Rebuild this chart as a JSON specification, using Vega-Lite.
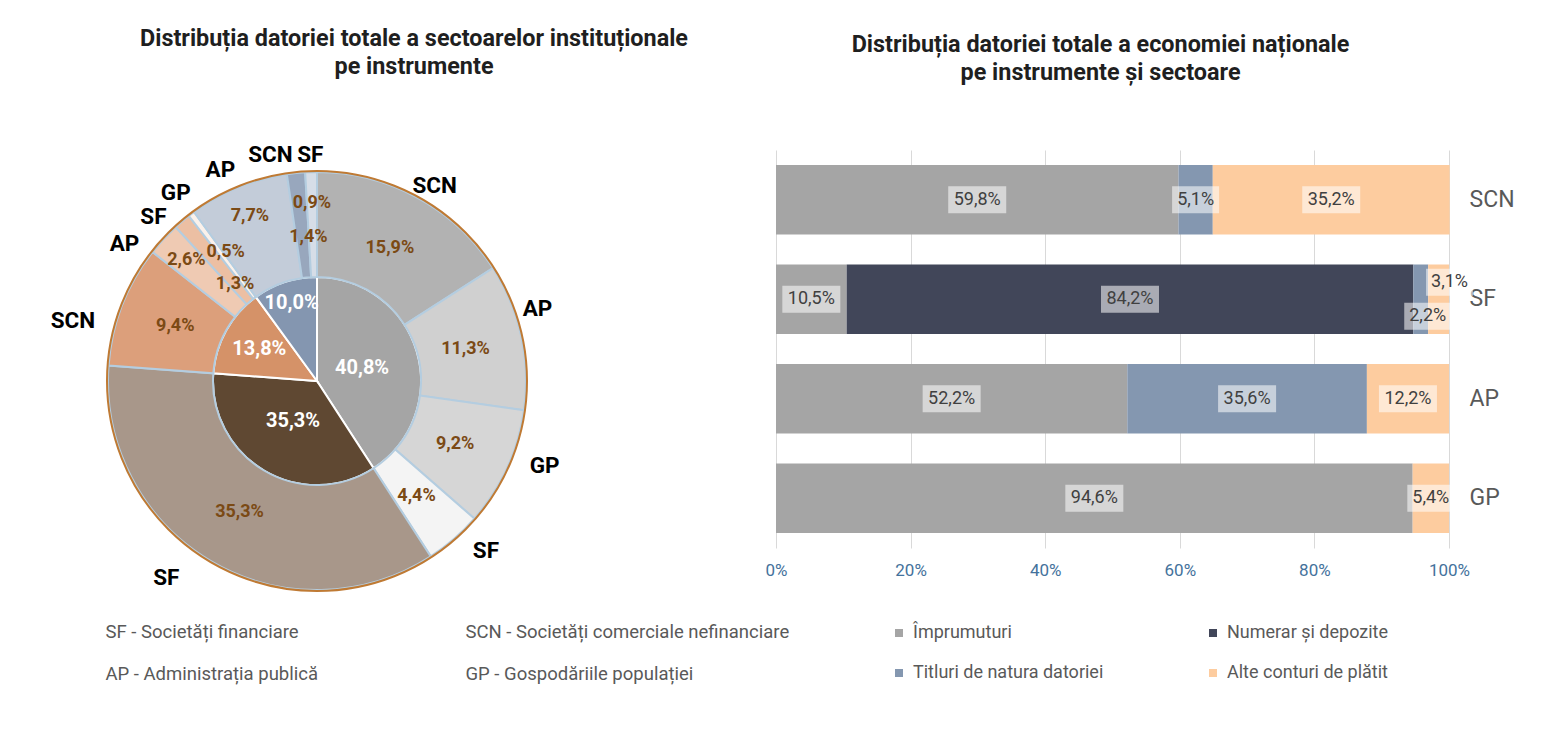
{
  "$schema": "https://vega.github.io/schema/vega-lite/v6.json",
  "padding": {"left": 37, "top": 26, "right": 5, "bottom": 5},
  "background": "white",
  "bounds": "flush",
  "spacing": 179,
  "config": {
    "font": "Roboto",
    "view": {"stroke": null},
    "locale": {"number": {"decimal": ",", "thousands": ".", "grouping": [3], "currency": ["", " lei"]}},
    "title": {"fontSize": 23.4, "fontWeight": "bold", "color": "#1f1f1f", "lineHeight": 28, "anchor": "middle", "frame": "group", "offset": 65}
  },
  "datasets": {
    "pie": [
      {"ring": "inner", "instrument": "Împrumuturi", "sector": "", "pct": 0.408},
      {"ring": "inner", "instrument": "Numerar și depozite", "sector": "", "pct": 0.353},
      {"ring": "inner", "instrument": "Alte conturi de plătit", "sector": "", "pct": 0.138},
      {"ring": "inner", "instrument": "Titluri de natura datoriei", "sector": "", "pct": 0.100},
      {"ring": "outer", "instrument": "Împrumuturi", "sector": "SCN", "pct": 0.159},
      {"ring": "outer", "instrument": "Împrumuturi", "sector": "AP", "pct": 0.113},
      {"ring": "outer", "instrument": "Împrumuturi", "sector": "GP", "pct": 0.092},
      {"ring": "outer", "instrument": "Împrumuturi", "sector": "SF", "pct": 0.044},
      {"ring": "outer", "instrument": "Numerar și depozite", "sector": "SF", "pct": 0.353},
      {"ring": "outer", "instrument": "Alte conturi de plătit", "sector": "SCN", "pct": 0.094},
      {"ring": "outer", "instrument": "Alte conturi de plătit", "sector": "AP", "pct": 0.026},
      {"ring": "outer", "instrument": "Alte conturi de plătit", "sector": "SF", "pct": 0.013},
      {"ring": "outer", "instrument": "Alte conturi de plătit", "sector": "GP", "pct": 0.005},
      {"ring": "outer", "instrument": "Titluri de natura datoriei", "sector": "AP", "pct": 0.077},
      {"ring": "outer", "instrument": "Titluri de natura datoriei", "sector": "SCN", "pct": 0.014},
      {"ring": "outer", "instrument": "Titluri de natura datoriei", "sector": "SF", "pct": 0.009}
    ],
    "bars": [
      {"sector": "SCN", "instrument": "Împrumuturi", "pct": 0.598},
      {"sector": "SCN", "instrument": "Titluri de natura datoriei", "pct": 0.051},
      {"sector": "SCN", "instrument": "Alte conturi de plătit", "pct": 0.352},
      {"sector": "SF", "instrument": "Împrumuturi", "pct": 0.105},
      {"sector": "SF", "instrument": "Numerar și depozite", "pct": 0.842},
      {"sector": "SF", "instrument": "Titluri de natura datoriei", "pct": 0.022},
      {"sector": "SF", "instrument": "Alte conturi de plătit", "pct": 0.031},
      {"sector": "AP", "instrument": "Împrumuturi", "pct": 0.522},
      {"sector": "AP", "instrument": "Titluri de natura datoriei", "pct": 0.356},
      {"sector": "AP", "instrument": "Alte conturi de plătit", "pct": 0.122},
      {"sector": "GP", "instrument": "Împrumuturi", "pct": 0.946},
      {"sector": "GP", "instrument": "Alte conturi de plătit", "pct": 0.054}
    ]
  },
  "resolve": {"scale": {"color": "independent"}, "legend": {"color": "independent"}},
  "hconcat": [
    {
      "title": {"text": ["Distribuția datoriei totale a sectoarelor instituționale", "pe instrumente"], "dx": 97},
      "width": 560,
      "height": 462,
      "data": {"name": "pie"},
      "transform": [
        {"window": [{"op": "row_number", "as": "k"}], "groupby": ["ring"]},
        {"stack": "pct", "groupby": ["ring"], "sort": [{"field": "k"}], "as": ["t0", "t1"]},
        {"calculate": "(datum.t0 + datum.t1) / 2", "as": "tm"}
      ],
      "resolve": {"scale": {"color": "independent"}, "legend": {"color": "independent"}},
      "layer": [
        {
          "transform": [{"filter": "datum.ring == 'inner'"}],
          "mark": {"type": "arc", "radius": 104, "stroke": "white", "strokeWidth": 2},
          "encoding": {
            "theta": {"field": "t0", "type": "quantitative", "scale": {"domain": [0, 0.999]}},
            "theta2": {"field": "t1"},
            "color": {
              "field": "instrument", "type": "nominal", "legend": null,
              "scale": {
                "domain": ["Împrumuturi", "Numerar și depozite", "Alte conturi de plătit", "Titluri de natura datoriei"],
                "range": ["#a5a5a5", "#5f4832", "#d59268", "#8496b0"]
              }
            }
          }
        },
        {
          "transform": [{"filter": "datum.ring == 'outer'"}],
          "mark": {"type": "arc", "innerRadius": 104, "radius": 209, "stroke": "#b4cde0", "strokeWidth": 2},
          "encoding": {
            "theta": {"field": "t0", "type": "quantitative", "scale": {"domain": [0, 0.999]}},
            "theta2": {"field": "t1"},
            "color": {
              "field": "k", "type": "ordinal", "legend": null,
              "scale": {
                "domain": [1, 2, 3, 4, 5, 6, 7, 8, 9, 10, 11, 12],
                "range": ["#b2b2b2", "#d0d0d0", "#d6d6d6", "#f4f4f4", "#a8978a", "#dc9f7b", "#efcab3", "#ecbfa3", "#fbf1ea", "#c3ccd9", "#98a7bd", "#d6dde7"]
              }
            }
          }
        },
        {
          "transform": [{"filter": "datum.ring == 'inner' && datum.k == 1"}],
          "mark": {"type": "arc", "radius": 210, "theta": 0, "theta2": 6.2832, "fillOpacity": 0, "stroke": "#bf7a34", "strokeWidth": 2},
          "encoding": {}
        },
        {
          "transform": [{"filter": "datum.ring == 'inner' && datum.k <= 2"}],
          "mark": {"type": "text", "radius": 47, "fontSize": 20, "fontWeight": "bold", "color": "white"},
          "encoding": {
            "theta": {"field": "tm", "type": "quantitative", "stack": null, "scale": {"domain": [0, 0.999]}},
            "text": {"field": "pct", "type": "quantitative", "format": ".1%"}
          }
        },
        {
          "transform": [{"filter": "datum.ring == 'inner' && datum.k == 3"}],
          "mark": {"type": "text", "radius": 66, "fontSize": 20, "fontWeight": "bold", "color": "white"},
          "encoding": {
            "theta": {"field": "tm", "type": "quantitative", "stack": null, "scale": {"domain": [0, 0.999]}},
            "text": {"field": "pct", "type": "quantitative", "format": ".1%"}
          }
        },
        {
          "transform": [{"filter": "datum.ring == 'inner' && datum.k == 4"}],
          "mark": {"type": "text", "radius": 82, "fontSize": 20, "fontWeight": "bold", "color": "white"},
          "encoding": {
            "theta": {"field": "tm", "type": "quantitative", "stack": null, "scale": {"domain": [0, 0.999]}},
            "text": {"field": "pct", "type": "quantitative", "format": ".1%"}
          }
        },
        {
          "transform": [{"filter": "datum.ring == 'outer' && indexof([7, 8, 9, 10, 11, 12], datum.k) < 0"}],
          "mark": {"type": "text", "radius": 152, "fontSize": 18, "fontWeight": "bold", "color": "#7b4a15"},
          "encoding": {
            "theta": {"field": "tm", "type": "quantitative", "stack": null, "scale": {"domain": [0, 0.999]}},
            "text": {"field": "pct", "type": "quantitative", "format": ".1%"}
          }
        },
        {
          "transform": [{"filter": "datum.ring == 'outer' && indexof([7, 10, 12], datum.k) >= 0"}],
          "mark": {"type": "text", "radius": 178, "fontSize": 18, "fontWeight": "bold", "color": "#7b4a15"},
          "encoding": {
            "theta": {"field": "tm", "type": "quantitative", "stack": null, "scale": {"domain": [0, 0.999]}},
            "text": {"field": "pct", "type": "quantitative", "format": ".1%"}
          }
        },
        {
          "transform": [{"filter": "datum.ring == 'outer' && datum.k == 9"}],
          "mark": {"type": "text", "radius": 162, "fontSize": 18, "fontWeight": "bold", "color": "#7b4a15", "dx": 6},
          "encoding": {
            "theta": {"field": "tm", "type": "quantitative", "stack": null, "scale": {"domain": [0, 0.999]}},
            "text": {"field": "pct", "type": "quantitative", "format": ".1%"}
          }
        },
        {
          "transform": [{"filter": "datum.ring == 'outer' && datum.k == 8"}],
          "mark": {"type": "text", "radius": 127, "fontSize": 18, "fontWeight": "bold", "color": "#7b4a15"},
          "encoding": {
            "theta": {"field": "tm", "type": "quantitative", "stack": null, "scale": {"domain": [0, 0.999]}},
            "text": {"field": "pct", "type": "quantitative", "format": ".1%"}
          }
        },
        {
          "transform": [{"filter": "datum.ring == 'outer' && datum.k == 11"}],
          "mark": {"type": "text", "radius": 145, "fontSize": 18, "fontWeight": "bold", "color": "#7b4a15", "dx": 6},
          "encoding": {
            "theta": {"field": "tm", "type": "quantitative", "stack": null, "scale": {"domain": [0, 0.999]}},
            "text": {"field": "pct", "type": "quantitative", "format": ".1%"}
          }
        },
        {
          "transform": [{"filter": "datum.ring == 'outer'"}],
          "mark": {
            "type": "text", "radius": 235, "fontSize": 22.5, "fontWeight": "bold",
            "dx": {"expr": "[5, -9, 14, 15, -31, -25, -20, -12, 0, -8, -23, 0][datum.k - 1]"},
            "dy": {"expr": "[11, -22, -13, -8, -5, 25, 23, 16, 0, 7, 8, 9][datum.k - 1]"}
          },
          "encoding": {
            "theta": {"field": "tm", "type": "quantitative", "stack": null, "scale": {"domain": [0, 0.999]}},
            "text": {"field": "sector", "type": "nominal"},
            "color": {
              "field": "sector", "type": "nominal",
              "scale": {"domain": ["SF", "SCN", "AP", "GP"], "range": ["#000000", "#000000", "#000000", "#000000"]},
              "legend": {
                "title": null, "orient": "none", "legendX": 50, "legendY": 473, "direction": "horizontal", "columns": 2,
                "columnPadding": 129, "rowPadding": 23, "symbolSize": 0, "symbolOpacity": 0, "labelOffset": 0,
                "labelFontSize": 18.5, "labelColor": "#595959", "labelLimit": 500,
                "labelExpr": "{'SF': 'SF - Societăți financiare', 'SCN': 'SCN - Societăți comerciale nefinanciare', 'AP': 'AP - Administrația publică', 'GP': 'GP - Gospodăriile populației'}[datum.label]"
              }
            }
          }
        }
      ]
    },
    {
      "title": {"text": ["Distribuția datoriei totale a economiei naționale", "pe instrumente și sectoare"], "dx": -12},
      "width": 673,
      "height": 398,
      "data": {"name": "bars"},
      "transform": [
        {"window": [{"op": "row_number", "as": "k"}], "groupby": ["sector"]},
        {"stack": "pct", "groupby": ["sector"], "sort": [{"field": "k"}], "as": ["x0", "x1"]},
        {"calculate": "(datum.x0 + datum.x1) / 2", "as": "xm"}
      ],
      "encoding": {
        "y": {
          "field": "sector", "type": "nominal", "title": null,
          "scale": {"domain": ["SCN", "SF", "AP", "GP"], "paddingInner": 0.3, "paddingOuter": 0.15},
          "axis": {"orient": "right", "domain": false, "ticks": false, "labelPadding": 20, "labelFontSize": 23, "labelColor": "#595959"}
        }
      },
      "layer": [
        {
          "mark": {"type": "bar"},
          "encoding": {
            "x": {
              "field": "x0", "type": "quantitative", "title": null,
              "scale": {"domain": [0, 1], "nice": false},
              "axis": {"format": ".0%", "values": [0, 0.2, 0.4, 0.6, 0.8, 1], "domain": false, "ticks": false, "grid": true, "gridColor": "#d9d9d9", "labelFontSize": 17, "labelColor": "#44729c", "labelPadding": 14, "labelFlush": false}
            },
            "x2": {"field": "x1"},
            "color": {
              "field": "instrument", "type": "nominal",
              "scale": {
                "domain": ["Împrumuturi", "Numerar și depozite", "Titluri de natura datoriei", "Alte conturi de plătit"],
                "range": ["#a5a5a5", "#414659", "#8497b0", "#fdcc9f"]
              },
              "legend": {
                "title": null, "orient": "none", "legendX": 114, "legendY": 474, "direction": "horizontal", "columns": 2,
                "columnPadding": 100, "rowPadding": 22, "symbolType": "square", "symbolSize": 64, "symbolStrokeWidth": 0,
                "labelFontSize": 18, "labelColor": "#595959", "labelLimit": 500, "labelOffset": 5
              }
            }
          }
        },
        {
          "transform": [{"filter": "datum.pct >= 0.1"}],
          "mark": {"type": "point", "shape": "M-1,-0.466H1V0.466H-1Z", "size": 3364, "filled": true, "color": "white", "opacity": 0.55},
          "encoding": {"x": {"field": "xm", "type": "quantitative"}}
        },
        {
          "transform": [{"filter": "datum.pct < 0.1 && datum.sector != 'SF'"}],
          "mark": {"type": "point", "shape": "M-1,-0.574H1V0.574H-1Z", "size": 2209, "filled": true, "color": "white", "opacity": 0.55},
          "encoding": {"x": {"field": "xm", "type": "quantitative"}}
        },
        {
          "transform": [{"filter": "datum.sector == 'SF' && datum.k == 3"}],
          "mark": {"type": "point", "shape": "M-1,-0.574H1V0.574H-1Z", "size": 2209, "filled": true, "color": "white", "opacity": 0.55, "xOffset": 7, "yOffset": 17},
          "encoding": {"x": {"field": "xm", "type": "quantitative"}}
        },
        {
          "transform": [{"filter": "datum.sector == 'SF' && datum.k == 4"}],
          "mark": {"type": "point", "shape": "M-1,-0.574H1V0.574H-1Z", "size": 2209, "filled": true, "color": "white", "opacity": 0.55, "xOffset": 11, "yOffset": -17},
          "encoding": {"x": {"field": "xm", "type": "quantitative"}}
        },
        {
          "transform": [{"filter": "!(datum.sector == 'SF' && datum.k >= 3)"}],
          "mark": {"type": "text", "fontSize": 18, "color": "#404040"},
          "encoding": {
            "x": {"field": "xm", "type": "quantitative"},
            "text": {"field": "pct", "type": "quantitative", "format": ".1%"}
          }
        },
        {
          "transform": [{"filter": "datum.sector == 'SF' && datum.k == 3"}],
          "mark": {"type": "text", "fontSize": 18, "color": "#404040", "dx": 7, "dy": 17},
          "encoding": {
            "x": {"field": "xm", "type": "quantitative"},
            "text": {"field": "pct", "type": "quantitative", "format": ".1%"}
          }
        },
        {
          "transform": [{"filter": "datum.sector == 'SF' && datum.k == 4"}],
          "mark": {"type": "text", "fontSize": 18, "color": "#404040", "dx": 11, "dy": -17},
          "encoding": {
            "x": {"field": "xm", "type": "quantitative"},
            "text": {"field": "pct", "type": "quantitative", "format": ".1%"}
          }
        }
      ]
    }
  ]
}
